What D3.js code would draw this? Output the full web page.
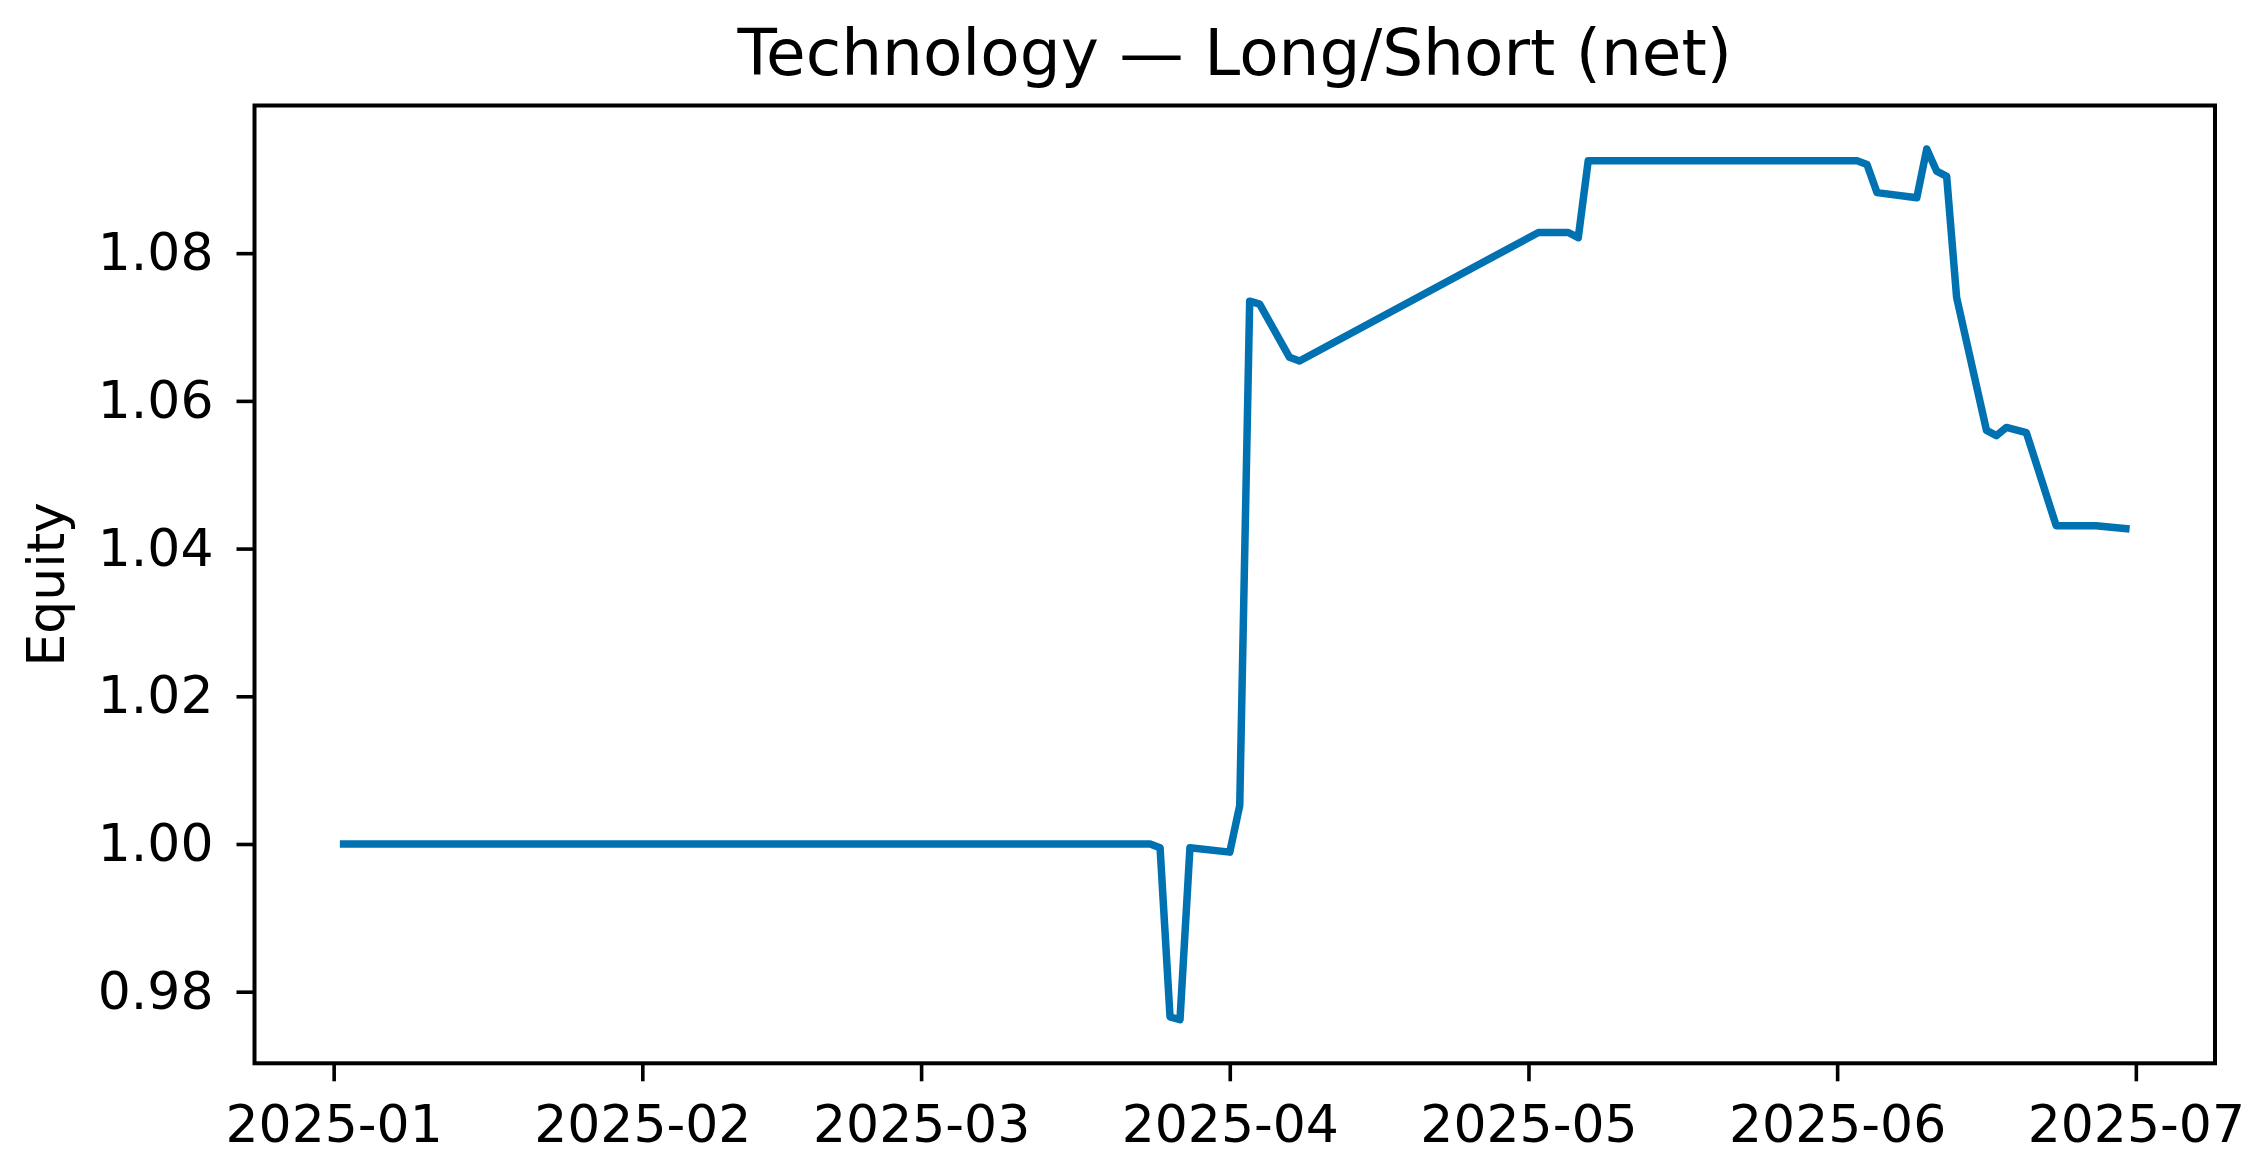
<!DOCTYPE html>
<html>
<head>
<meta charset="utf-8">
<script src="https://cdn.jsdelivr.net/npm/d3@7"></script>
<style>
  html, body { margin: 0; padding: 0; background: #ffffff; }
  svg { display: block; }
  text { font-family: "DejaVu Sans", sans-serif; fill: #000; }
</style>
</head>
<body>
<svg id="chart" width="2266" height="1171"></svg>
<script>
// ---- data ----
const chartTitle = "Technology \u2014 Long/Short (net)";
const yLabel = "Equity";
const dates = ["2025-01-02","2025-03-24","2025-03-25","2025-03-26","2025-03-27","2025-03-28",
  "2025-04-01","2025-04-02","2025-04-03","2025-04-04","2025-04-07","2025-04-08",
  "2025-05-02","2025-05-05","2025-05-06","2025-05-07","2025-06-03","2025-06-04",
  "2025-06-05","2025-06-09","2025-06-10","2025-06-11","2025-06-12","2025-06-13",
  "2025-06-16","2025-06-17","2025-06-18","2025-06-20","2025-06-23","2025-06-27","2025-06-30"];
const equity = [1.0000,1.0000,0.9995,0.9766,0.9762,0.9995,
  0.9989,1.0052,1.0735,1.0731,1.0659,1.0654,
  1.0828,1.0828,1.0821,1.0925,1.0925,1.0920,
  1.0882,1.0875,1.0941,1.0911,1.0904,1.0740,
  1.0560,1.0553,1.0564,1.0557,1.0431,1.0431,1.0427];
const xTickLabels = ["2025-01","2025-02","2025-03","2025-04","2025-05","2025-06","2025-07"];
const yTickValues = [0.98, 1.00, 1.02, 1.04, 1.06, 1.08];

// ---- layout ----
const W = 2266, H = 1171;
const pL = 254.5, pR = 2215, pT = 105.5, pB = 1063.3;
const lineColor = "#0072B2";

const parse = d3.utcParse("%Y-%m-%d");
const data = dates.map((d, i) => ({ date: parse(d), value: equity[i] }));

const xExt = d3.extent(data, d => d.date);
const xPad = (xExt[1] - xExt[0]) * 0.05;
const x = d3.scaleUtc()
  .domain([new Date(+xExt[0] - xPad), new Date(+xExt[1] + xPad)])
  .range([pL, pR]);

const yExt = d3.extent(data, d => d.value);
const yPad = (yExt[1] - yExt[0]) * 0.05;
const y = d3.scaleLinear()
  .domain([yExt[0] - yPad, yExt[1] + yPad])
  .range([pB, pT]);

const svg = d3.select("#chart");
svg.append("rect").attr("width", W).attr("height", H).attr("fill", "#fff");

// line
const line = d3.line().x(d => x(d.date)).y(d => y(d.value));
svg.append("path")
  .datum(data)
  .attr("d", line)
  .attr("fill", "none")
  .attr("stroke", lineColor)
  .attr("stroke-width", 7.5)
  .attr("stroke-linejoin", "round")
  .attr("stroke-linecap", "square");

// axes
const fontPx = 52;
const xTickDates = xTickLabels.map(s => parse(s + "-01"));
const xAxis = d3.axisBottom(x)
  .tickValues(xTickDates)
  .tickFormat(d3.utcFormat("%Y-%m"))
  .tickSize(18)
  .tickPadding(23.5)
  .tickSizeOuter(0);
const gx = svg.append("g").attr("transform", `translate(0,${pB})`).call(xAxis);
gx.select(".domain").remove();
gx.selectAll(".tick line").attr("stroke", "#000").attr("stroke-width", 3.6);
gx.selectAll(".tick text")
  .style("font-family", "'DejaVu Sans', sans-serif")
  .style("font-size", fontPx + "px")
  .attr("fill", "#000");

const yAxis = d3.axisLeft(y)
  .tickValues(yTickValues)
  .tickFormat(d3.format(".2f"))
  .tickSize(18)
  .tickPadding(23)
  .tickSizeOuter(0);
const gy = svg.append("g").attr("transform", `translate(${pL},0)`).call(yAxis);
gy.select(".domain").remove();
gy.selectAll(".tick line").attr("stroke", "#000").attr("stroke-width", 3.6);
gy.selectAll(".tick text")
  .style("font-family", "'DejaVu Sans', sans-serif")
  .style("font-size", fontPx + "px")
  .attr("fill", "#000");

// frame
svg.append("rect")
  .attr("x", pL).attr("y", pT)
  .attr("width", pR - pL).attr("height", pB - pT)
  .attr("fill", "none").attr("stroke", "#000").attr("stroke-width", 4);

// title
svg.append("text")
  .attr("x", (pL + pR) / 2).attr("y", 75)
  .attr("text-anchor", "middle")
  .style("font-size", "64.5px")
  .text(chartTitle);

// y label
svg.append("text")
  .attr("transform", `translate(64,${(pT + pB) / 2}) rotate(-90)`)
  .attr("text-anchor", "middle")
  .style("font-size", fontPx + "px")
  .text(yLabel);
</script>
</body>
</html>
